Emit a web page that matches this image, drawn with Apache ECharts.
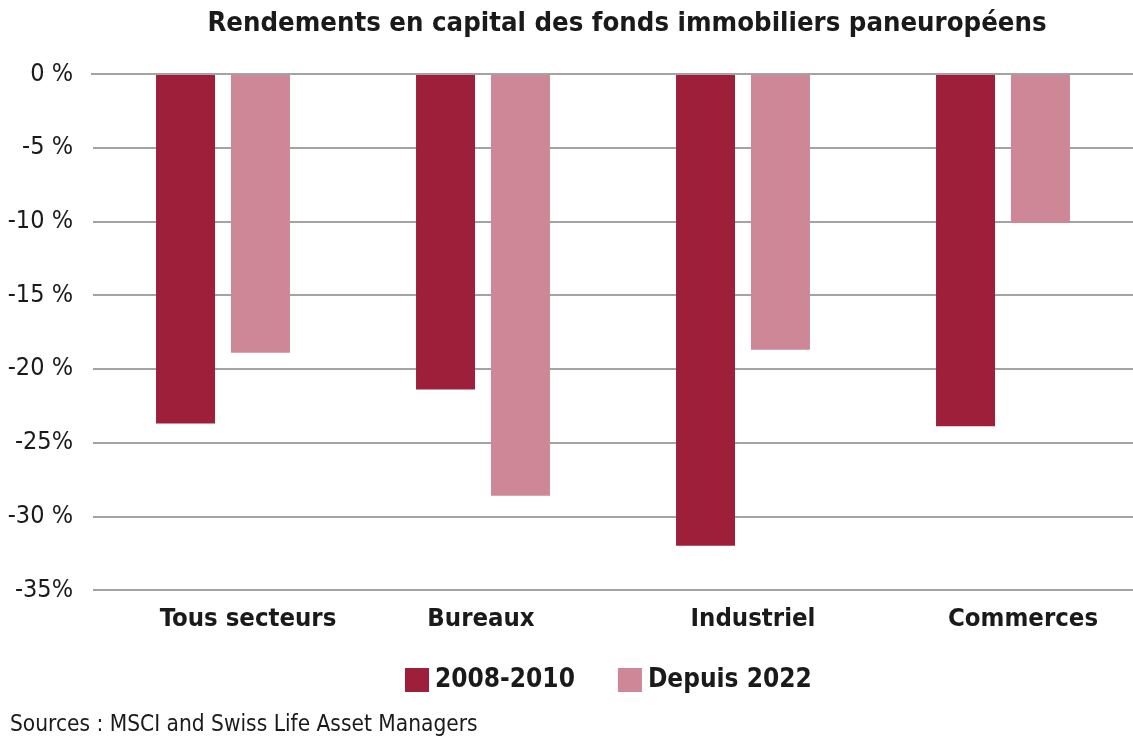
<!DOCTYPE html>
<html>
<head>
<meta charset="utf-8">
<script src="https://cdn.jsdelivr.net/npm/echarts@6/dist/echarts.min.js"></script>
<style>
html,body{margin:0;padding:0;background:#fff;}
#c{width:1133px;height:744px;}
</style>
</head>
<body>
<div id="c"></div>
<script>
const categories = ["Tous secteurs", "Bureaux", "Industriel", "Commerces"];
const series2008 = [-23.7, -21.4, -32.0, -23.9];
const seriesDepuis2022 = [-18.9, -28.6, -18.7, -10.1];
const seriesNames = ["2008-2010", "Depuis 2022"];
const tickLabels = {"0": "0 %", "-5": "-5 %", "-10": "-10 %", "-15": "-15 %", "-20": "-20 %", "-25": "-25%", "-30": "-30 %", "-35": "-35%"};

// style: horizontal nudges of the category labels, as in the original layout
const LABEL_NUDGE = [25, -2, 10, 20];
const FONT = '"DejaVu Sans Condensed", "Liberation Sans Narrow", sans-serif';
const chart = echarts.init(document.getElementById('c'));
chart.setOption({
  animation: false,
  title: [{
    text: "Rendements en capital des fonds immobiliers paneuropéens",
    left: 622, top: 5, textAlign: 'center',
    textStyle: {fontFamily: FONT, fontWeight: 'bold', fontSize: 27.3, color: '#1a1a1a'}
  }, {
    text: "Sources : MSCI and Swiss Life Asset Managers",
    left: 5, top: 709,
    textStyle: {fontFamily: FONT, fontWeight: 'normal', fontSize: 22.5, color: '#1a1a1a'}
  }],
  legend: {
    data: seriesNames,
    left: 400, top: 662,
    itemWidth: 24, itemHeight: 24, itemGap: 43,
    icon: 'rect',
    textStyle: {fontFamily: FONT, fontWeight: 'bold', fontSize: 26, color: '#1a1a1a', padding: [0,0,0,1]}
  },
  grid: {left: 93, right: 0, top: 74, bottom: 154, containLabel: false},
  xAxis: {
    type: 'category', data: categories,
    axisLine: {show: false}, axisTick: {show: false},
    axisLabel: {show: false}
  },
  yAxis: {
    type: 'value', min: -35, max: 0, interval: 5,
    axisLine: {show: false}, axisTick: {show: false},
    splitLine: {lineStyle: {color: '#a3a3a3', width: 2}},
    axisLabel: {
      fontFamily: FONT, fontSize: 25, color: '#1a1a1a', margin: 20,
      formatter: v => tickLabels[String(v)]
    }
  },
  series: [{
    name: seriesNames[0], type: 'bar', data: series2008,
    barWidth: 59, barGap: '27%', itemStyle: {color: '#9e1f39'}
  }, {
    name: seriesNames[1], type: 'bar', data: seriesDepuis2022,
    barWidth: 59, itemStyle: {color: '#ce8797'}
  }]
});
// category labels and zero line placed through the library's scales
const labels = categories.map((c, i) => {
  const p = chart.convertToPixel({xAxisIndex: 0, yAxisIndex: 0}, [c, -35]);
  return {
    type: 'text', z: 10, x: p[0] + LABEL_NUDGE[i], y: p[1] + 29,
    style: {text: c, fontFamily: FONT, fontWeight: 'bold', fontSize: 25.5, fill: '#1a1a1a', align: 'center', verticalAlign: 'middle'}
  };
});
const z = chart.convertToPixel({yAxisIndex: 0}, 0);
labels.push({
  type: 'line', z: 20, shape: {x1: 91, y1: z, x2: 1133, y2: z},
  style: {stroke: '#a3a3a3', lineWidth: 2}
});
chart.setOption({graphic: labels});
</script>
</body>
</html>
